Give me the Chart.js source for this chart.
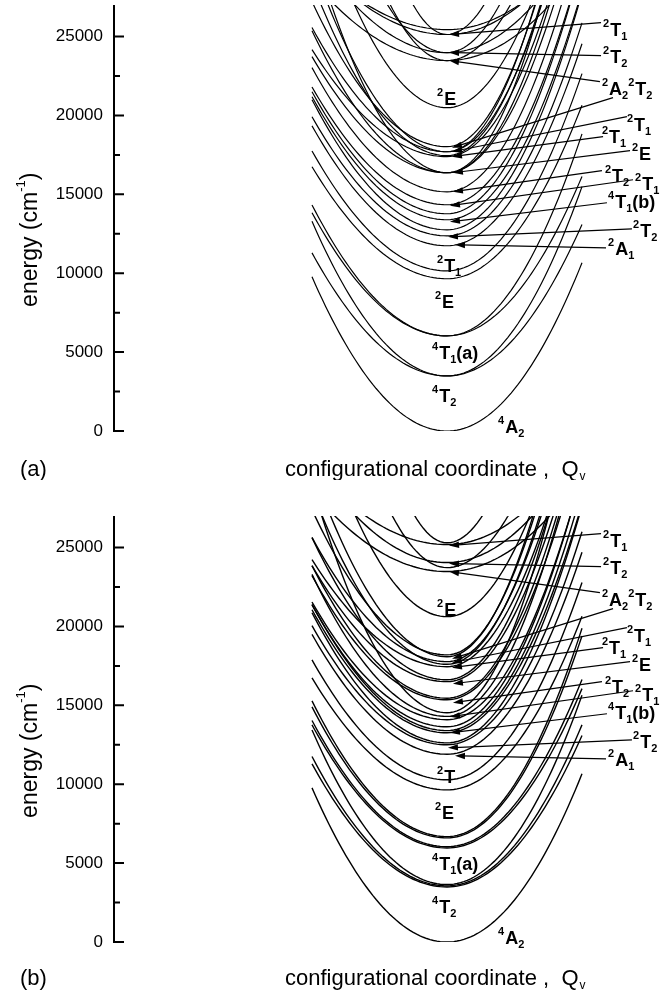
<!DOCTYPE html>
<html>
<head>
<meta charset="utf-8">
<script src="https://cdn.jsdelivr.net/npm/chart.js@4.4.1/dist/chart.umd.min.js"></script>
<style>
  body { margin: 0; background: #fff; }
  .panel { position: absolute; left: 0; width: 672px; }
</style>
</head>
<body>
<div class="panel" style="top:0;height:480px"><canvas id="chartA"></canvas></div>
<div class="panel" style="top:480px;height:512px"><canvas id="chartB"></canvas></div>
<script>
// energy axis
const majorTicks = [0, 5000, 10000, 15000, 20000, 25000];
const minorTicks = [2500, 7500, 12500, 17500, 22500];

// panel (a): minimum energy of each potential curve (cm-1) and the rise at Q = -1 / Q = +1
const minimaA = [0, 3490, 3490, 6030, 6030, 9650, 10150, 11740, 12370, 12750, 13390, 13770, 14340, 15160, 16370,
  16370, 16370, 17390, 17450, 17700, 17700, 18020, 20490, 23480, 23480, 23980, 23980, 25130, 25130, 25440];
const leftRiseA = [9770, 7800, 9800, 7800, 8300, 7100, 7600, 7600, 7550, 8250, 7800, 7730, 7460, 7870, 7360,
  9000, 14500, 6780, 11000, 7870, 12000, 9200, 13900, 5100, 20000, 6500, 15600, 5000, 30000, 4500];
const rightRiseA = [10660, 9600, 12000, 10100, 12800, 11000, 12500, 12800, 13500, 15000, 14500, 16000, 15500, 16500, 17000,
  18500, 22000, 17500, 20000, 19000, 22000, 21000, 17000, 6100, 16000, 7400, 20000, 6400, 25000, 5500];

// panel (b): the same states with their split components
const minimaB = [0, 3490, 3560, 3640, 5960, 6040, 6600, 6680, 9640, 10280, 11900, 12500, 12620, 13260, 13400, 13640,
  14090, 14300, 14530, 15350, 15450, 16500, 16620, 17450, 17600, 17770, 18080, 18200, 20620, 23480, 23730, 24050, 25190, 25300];
const leftRiseB = [9770, 7800, 8200, 9800, 7800, 8000, 8300, 8600, 7100, 7600, 7600, 7550, 8250, 7800, 8000, 7730,
  7460, 9000, 14500, 7870, 8400, 7360, 9000, 6780, 11000, 7870, 12000, 9200, 13900, 5100, 20000, 6500, 5000, 30000];
const rightRiseB = [10660, 9600, 10200, 12000, 10100, 10600, 12800, 13200, 11000, 12500, 12800, 13500, 15000, 14500, 15200, 16000,
  15500, 18500, 22000, 16500, 17500, 17000, 18500, 17500, 20000, 19000, 22000, 21000, 17000, 6100, 16000, 7400, 6400, 25000];

// state labels: '^' = superscript, '_' = subscript; position [Q, energy]
const labelText = ['^2T_1', '^2T_2', '^2A_2^2T_2', '^2T_1', '^2T_1', '^2E', '^2T_2', '^2T_1', '^4T_1(b)', '^2T_2', '^2A_1',
  '^2E', '^2T_1', '^2E', '^4T_1(a)', '^4T_2', '^4A_2'];
const labelPos = [[1.156, 25063], [1.156, 23350], [1.148, 21319], [1.333, 19035], [1.148, 18274], [1.370, 17195],
  [1.170, 15799], [1.393, 15291], [1.193, 14149], [1.378, 12309], [1.193, 11167],
  [-0.074, 20685], [-0.074, 10089], [-0.089, 7804], [-0.111, 4568], [-0.111, 1840], [0.378, -127]];

// arrows from the labels to the curve minima, [Q, energy]
const arrowFrom = [[1.141, 25888], [1.141, 23794], [1.133, 22144], [1.230, 21129], [1.333, 19923], [1.156, 18654],
  [1.356, 17766], [1.148, 16497], [1.378, 15926], [1.185, 14467], [1.370, 12817], [1.178, 11611]];
const arrowTo = [[0.015, 25126], [0.015, 23984], [0.015, 23477], [0.037, 17956], [0.037, 17703], [0.037, 17385],
  [0.044, 16370], [0.044, 15165], [0.022, 14276], [0.022, 13261], [0.007, 12309], [0.059, 11802]];

const FONT = '"Liberation Sans", Arial, Helvetica, sans-serif';

function curveDatasets(minima, leftRise, rightRise, width) {
  return minima.map((e0, i) => {
    const pts = [];
    for (let k = 0; k <= 80; k++) {
      const q = -1 + k / 40;
      const rise = q < 0 ? leftRise[i] : rightRise[i];
      pts.push({ x: q, y: e0 + rise * q * q });
    }
    return {
      data: pts,
      showLine: true,
      borderColor: '#000',
      borderWidth: width,
      pointRadius: 0,
      tension: 0
    };
  });
}

function drawState(ctx, x, y, text) {
  let cx = x;
  for (let i = 0; i < text.length; i++) {
    let ch = text[i];
    let dy = 0;
    if (ch === '^' || ch === '_') {
      dy = ch === '^' ? -9 : 4;
      ch = text[++i];
      ctx.font = 'bold 11px ' + FONT;
    } else {
      ctx.font = 'bold 18px ' + FONT;
    }
    ctx.fillText(ch, cx, y + dy);
    cx += ctx.measureText(ch).width + (dy < 0 ? 1 : 0);
  }
}

function drawArrow(ctx, x1, y1, x2, y2) {
  const a = Math.atan2(y2 - y1, x2 - x1);
  ctx.beginPath();
  ctx.moveTo(x1, y1);
  ctx.lineTo(x2 - 6 * Math.cos(a), y2 - 6 * Math.sin(a));
  ctx.stroke();
  ctx.beginPath();
  ctx.moveTo(x2, y2);
  ctx.lineTo(x2 - 10 * Math.cos(a) + 3.2 * Math.sin(a), y2 - 10 * Math.sin(a) - 3.2 * Math.cos(a));
  ctx.lineTo(x2 - 10 * Math.cos(a) - 3.2 * Math.sin(a), y2 - 10 * Math.sin(a) + 3.2 * Math.cos(a));
  ctx.closePath();
  ctx.fill();
}

function decorations(tag, stateNames, titleBase) {
  return {
    id: 'decor' + tag,
    afterDraw(chart) {
      const ctx = chart.ctx;
      const xs = chart.scales.x, ys = chart.scales.y;
      const axisX = chart.chartArea.left;
      ctx.save();
      ctx.fillStyle = '#000';
      ctx.strokeStyle = '#000';

      // axis line and inward ticks
      ctx.lineWidth = 2;
      ctx.beginPath();
      ctx.moveTo(axisX, ys.getPixelForValue(27000));
      ctx.lineTo(axisX, ys.getPixelForValue(0) + 1);
      majorTicks.forEach(v => {
        const p = ys.getPixelForValue(v);
        ctx.moveTo(axisX, p);
        ctx.lineTo(axisX + 10, p);
      });
      minorTicks.forEach(v => {
        const p = ys.getPixelForValue(v);
        ctx.moveTo(axisX, p);
        ctx.lineTo(axisX + 6, p);
      });
      ctx.stroke();

      // y title
      ctx.save();
      const cy = (ys.getPixelForValue(0) + ys.getPixelForValue(25000)) / 2 + 6;
      ctx.translate(37, cy);
      ctx.rotate(-Math.PI / 2);
      ctx.font = '23px ' + FONT;
      const w1 = ctx.measureText('energy (cm').width;
      ctx.font = '13px ' + FONT;
      const w2 = ctx.measureText('-1').width;
      ctx.font = '23px ' + FONT;
      const w3 = ctx.measureText(')').width;
      let sx = -(w1 + w2 + w3) / 2;
      ctx.textBaseline = 'alphabetic';
      ctx.fillText('energy (cm', sx, 0);
      ctx.font = '13px ' + FONT;
      ctx.fillText('-1', sx + w1, -12);
      ctx.font = '23px ' + FONT;
      ctx.fillText(')', sx + w1 + w2, 0);
      ctx.restore();

      // x title and panel tag
      ctx.font = '22px ' + FONT;
      ctx.fillText('(' + tag + ')', 20, titleBase);
      const xt = 'configurational coordinate ,  Q';
      ctx.fillText(xt, 285, titleBase);
      const wx = ctx.measureText(xt).width;
      ctx.font = '12px ' + FONT;
      ctx.fillText('v', 285 + wx + 1, titleBase + 4);

      // arrows
      ctx.lineWidth = 1.2;
      arrowFrom.forEach((f, i) => {
        drawArrow(ctx, xs.getPixelForValue(f[0]), ys.getPixelForValue(f[1]),
          xs.getPixelForValue(arrowTo[i][0]), ys.getPixelForValue(arrowTo[i][1]));
      });

      // state labels
      ctx.textBaseline = 'alphabetic';
      stateNames.forEach((t, i) => {
        drawState(ctx, xs.getPixelForValue(labelPos[i][0]), ys.getPixelForValue(labelPos[i][1]), t);
      });
      ctx.restore();
    }
  };
}

function makeChart(id, datasets, pad, tag, stateNames, titleBase) {
  return new Chart(document.getElementById(id), {
    type: 'scatter',
    data: { datasets: datasets },
    options: {
      responsive: true,
      maintainAspectRatio: false,
      animation: false,
      devicePixelRatio: 1,
      layout: { padding: { left: 0, right: 0, top: pad.top, bottom: pad.bottom } },
      plugins: { legend: { display: false }, tooltip: { enabled: false } },
      scales: {
        x: { type: 'linear', min: -2.4667, max: 1.6667, display: false },
        y: {
          min: 0,
          max: 27000,
          afterFit: s => { s.width = 114; s.paddingTop = 0; s.paddingBottom = 0; },
          afterBuildTicks: s => { s.ticks = majorTicks.map(v => ({ value: v })); },
          grid: { display: false },
          border: { display: false },
          ticks: {
            padding: 3,
            color: '#000',
            font: { family: FONT, size: 17 },
            callback: v => String(v)
          }
        }
      }
    },
    plugins: [decorations(tag, stateNames, titleBase)]
  });
}

makeChart('chartA', curveDatasets(minimaA, leftRiseA, rightRiseA, 1.2), { top: 5, bottom: 49 }, 'a', labelText, 476);

const labelTextB = labelText.slice();
labelTextB[12] = '^2T';
makeChart('chartB', curveDatasets(minimaB, leftRiseB, rightRiseB, 1.4), { top: 36, bottom: 50 }, 'b', labelTextB, 505);
</script>
</body>
</html>
